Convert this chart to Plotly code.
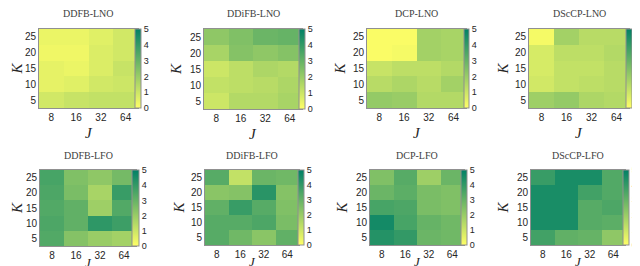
import plotly.graph_objects as go

J_labels = ["8", "16", "32", "64"]
K_values = [5, 10, 15, 20, 25]
titles = ["DDFB-LNO", "DDiFB-LNO", "DCP-LNO", "DScCP-LNO",
          "DDFB-LFO", "DDiFB-LFO", "DCP-LFO", "DScCP-LFO"]

# rows listed from K=5 (bottom) to K=25 (top); columns J=8,16,32,64
ddfb_lno = [[0.9, 1.1, 1.2, 1.2],
            [0.5, 0.6, 0.9, 1.0],
            [0.5, 0.4, 0.7, 1.1],
            [0.3, 0.3, 0.7, 0.9],
            [0.4, 0.4, 0.6, 0.9]]
ddifb_lno = [[1.0, 1.5, 1.5, 1.7],
             [1.2, 1.3, 1.4, 1.6],
             [1.0, 1.3, 1.6, 1.5],
             [1.7, 2.4, 2.2, 2.4],
             [2.2, 2.5, 2.9, 3.0]]
dcp_lno = [[2.1, 2.0, 1.5, 1.5],
           [1.4, 1.6, 1.4, 1.8],
           [1.1, 1.3, 1.3, 1.5],
           [0.1, 0.2, 1.8, 1.7],
           [0.1, 0.1, 1.8, 1.7]]
dsccp_lno = [[1.9, 2.1, 1.6, 1.5],
             [0.9, 1.2, 1.3, 1.4],
             [0.8, 1.2, 1.2, 1.4],
             [0.8, 1.3, 1.3, 1.5],
             [0.2, 1.8, 1.4, 1.4]]
ddfb_lfo = [[3.4, 2.4, 2.0, 1.8],
            [3.5, 3.1, 4.1, 3.8],
            [3.4, 3.1, 1.9, 3.4],
            [3.5, 2.6, 1.7, 3.9],
            [3.6, 2.5, 2.2, 2.7]]
ddifb_lfo = [[3.3, 2.8, 2.3, 3.1],
             [3.3, 3.3, 3.5, 2.6],
             [3.1, 3.9, 3.3, 2.5],
             [2.3, 2.4, 4.2, 2.4],
             [3.3, 1.2, 2.9, 2.8]]
dcp_lfo = [[4.3, 4.0, 2.9, 2.8],
           [4.6, 3.6, 3.0, 2.8],
           [3.6, 3.5, 2.6, 2.5],
           [2.9, 3.2, 2.6, 2.5],
           [2.5, 3.3, 1.9, 2.9]]
dsccp_lfo = [[3.7, 3.1, 3.0, 2.2],
             [4.5, 4.5, 3.3, 3.2],
             [4.5, 4.5, 3.3, 3.5],
             [4.5, 4.5, 3.7, 3.4],
             [3.9, 4.5, 4.5, 3.4]]
data = [ddfb_lno, ddifb_lno, dcp_lno, dsccp_lno,
        ddfb_lfo, ddifb_lfo, dcp_lfo, dsccp_lfo]

W, H = 640, 266
CB_OFF = 6  # plotly draws the bar a few px right of its x anchor
# pixel boxes: plot (x0, x1, y0, y1), colorbar (x0, x1), K label x
plots = [(31, 130, 21, 100), (196, 294, 21, 101), (359, 458, 21, 100), (521, 621, 21, 100),
         (32, 128, 162, 238), (197, 291, 162, 237), (362, 456, 162, 237), (523, 617, 162, 237)]
cbars = [(133, 139), (297, 303), (462, 467), (624, 630),
         (130, 137), (296, 302), (459, 465), (621, 627)]
klabx = [8, 168, 331, 494, 9, 170, 333, 494]

cscale = [[0, "rgb(255,255,102)"], [1, "rgb(0,128,102)"]]
fig = go.Figure()
annotations = []
layout = {}
for i in range(8):
    x0, x1, y0, y1 = plots[i]
    c0, c1 = cbars[i]
    ax = "" if i == 0 else str(i + 1)
    fig.add_trace(go.Heatmap(
        z=data[i], x=J_labels, y=K_values, zmin=0, zmax=5,
        colorscale=cscale, xaxis="x" + ax, yaxis="y" + ax, xgap=0, ygap=0,
        colorbar=dict(x=(c0 - CB_OFF) / W, xanchor="left", xref="paper",
                      y=1 - y1 / H, yanchor="bottom", len=(y1 - y0) / H, lenmode="fraction",
                      thickness=c1 - c0, thicknessmode="pixels",
                      tickvals=[0, 1, 2, 3, 4, 5], ticks="", ypad=0, xpad=0,
                      outlinewidth=1, outlinecolor="#909090",
                      tickfont=dict(family="Liberation Sans, Arial", size=9, color="#262626"))))
    layout["xaxis" + ax] = dict(domain=[x0 / W, x1 / W], anchor="y" + ax, type="category",
                                showline=True, mirror=True, linecolor="#909090", linewidth=1,
                                ticks="", showgrid=False, zeroline=False,
                                tickfont=dict(family="Liberation Sans, Arial", size=10, color="#262626"))
    layout["yaxis" + ax] = dict(domain=[1 - y1 / H, 1 - y0 / H], anchor="x" + ax,
                                range=[2.5, 27.5], tickvals=K_values,
                                showline=True, mirror=True, linecolor="#909090", linewidth=1,
                                ticks="", showgrid=False, zeroline=False,
                                tickfont=dict(family="Liberation Sans, Arial", size=10, color="#262626"))
    annotations.append(dict(text=titles[i], x=(x0 + x1) / 2 / W, y=1 - (y0 - 15) / H,
                            xref="paper", yref="paper", showarrow=False, xanchor="center",
                            yanchor="middle",
                            font=dict(family="Liberation Serif, Times New Roman", size=10, color="#404040")))
    annotations.append(dict(text="<i>K</i>", x=klabx[i] / W, y=1 - (y0 + y1) / 2 / H,
                            xref="paper", yref="paper", showarrow=False, textangle=-90,
                            xanchor="center", yanchor="middle",
                            font=dict(family="Liberation Serif, Times New Roman", size=15, color="#262626")))
    jy = y1 + 25 if i < 4 else y1 + 16
    annotations.append(dict(text="<i>J</i>", x=(x0 + x1) / 2 / W, y=1 - jy / H,
                            xref="paper", yref="paper", showarrow=False,
                            xanchor="center", yanchor="middle",
                            font=dict(family="Liberation Serif, Times New Roman",
                                      size=15 if i < 4 else 13, color="#262626")))

fig.update_layout(width=W, height=H, margin=dict(l=0, r=0, t=0, b=0, autoexpand=False),
                  paper_bgcolor="white", plot_bgcolor="white",
                  annotations=annotations, **layout)
fig.write_html("out.html")
